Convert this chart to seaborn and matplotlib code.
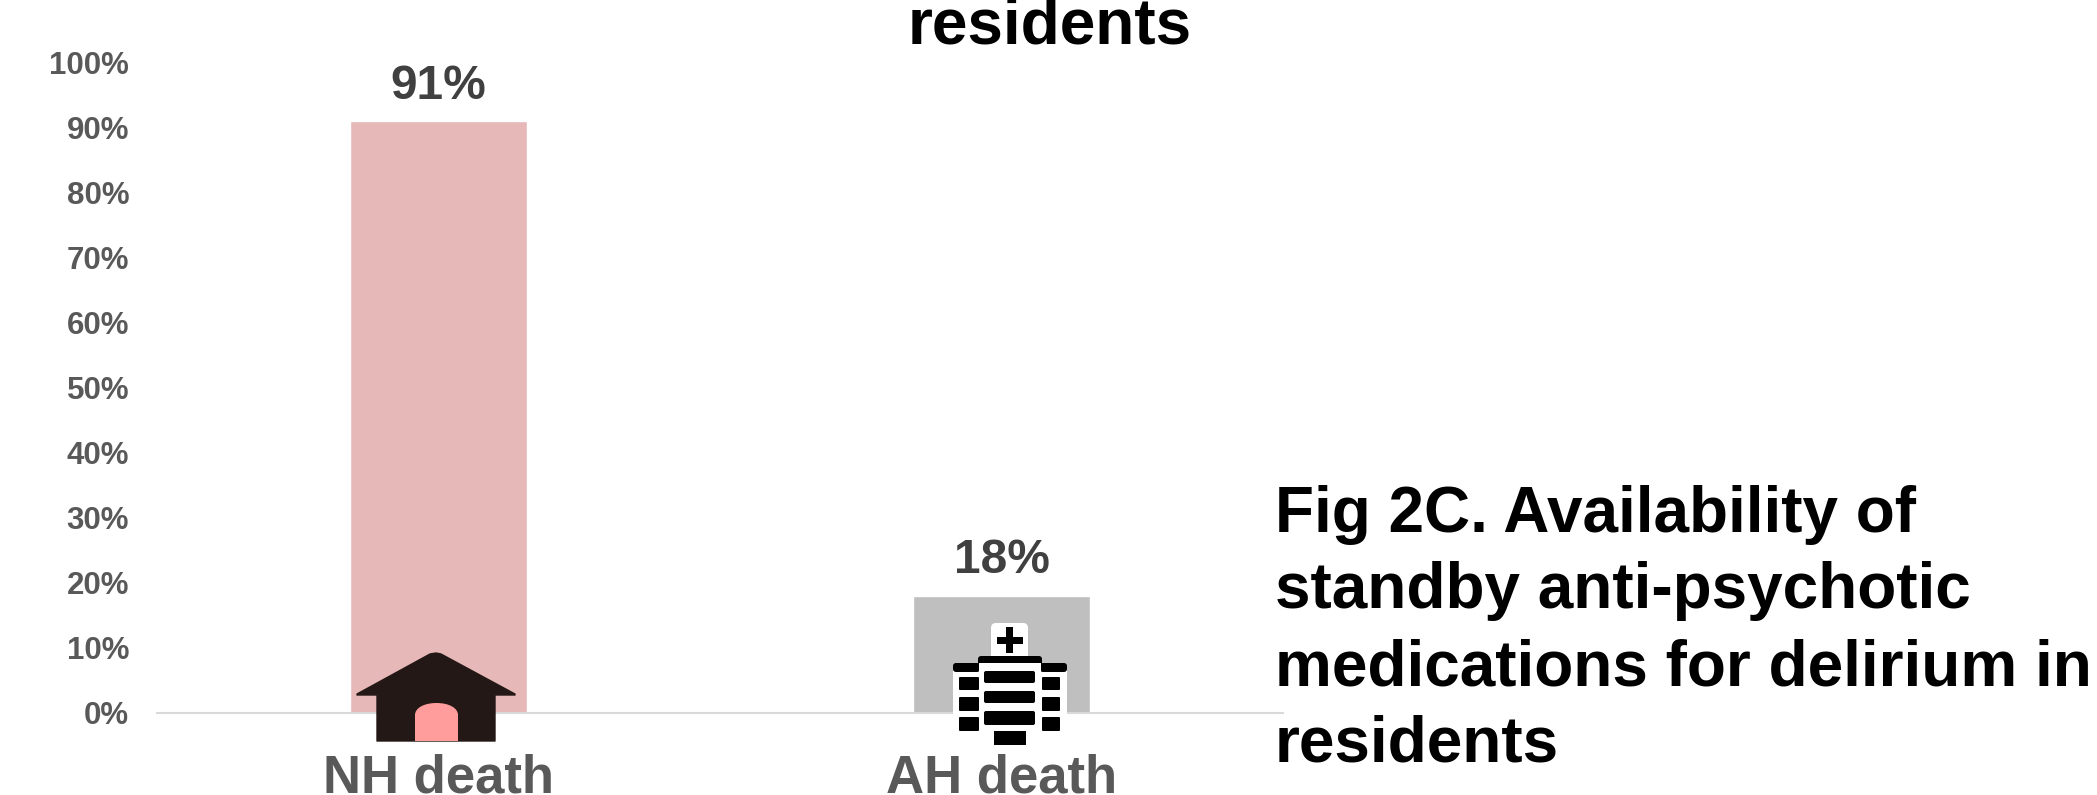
import matplotlib
matplotlib.use("Agg")
import matplotlib.pyplot as plt
import pandas as pd
import seaborn as sns
from matplotlib.patches import FancyBboxPatch, PathPatch, Polygon, Rectangle
from matplotlib.path import Path

categories = ["NH death", "AH death"]
values = [91, 18]
bar_colors = ["#E6B8B7", "#BFBFBF"]
tick_values = list(range(0, 101, 10))
tick_labels = [f"{v}%" for v in tick_values]
heading = "residents"
side_caption = [
    "Fig 2C. Availability of",
    "standby anti-psychotic",
    "medications for delirium in",
    "residents",
]

W, H = 2097, 795
sns.set_theme(style="white")
plt.rcParams["font.family"] = ["Liberation Sans", "DejaVu Sans"]

fig = plt.figure(figsize=(W / 100, H / 100), dpi=100, facecolor="white")
ax = fig.add_axes([157 / W, 1 - 713 / H, (1283 - 157) / W, (713 - 62.5) / H])

df = pd.DataFrame({"setting": categories, "pct": values})
sns.barplot(data=df, x="setting", y="pct", hue="setting", palette=bar_colors,
            width=0.316, legend=False, saturation=1, ax=ax)

ax.set_xlim(-0.5, 1.5)
ax.set_ylim(0, 100)
ax.set_xlabel("")
ax.set_ylabel("")
ax.set_yticks(tick_values)
ax.set_yticklabels(tick_labels, fontsize=22.5, fontweight="bold", color="#595959")
ax.set_xticks(range(len(categories)))
ax.set_xticklabels(categories, fontsize=38, fontweight="bold", color="#595959")
ax.tick_params(axis="y", length=0, pad=20)
ax.tick_params(axis="x", length=0, pad=29)
for side in ("top", "right", "left"):
    ax.spines[side].set_visible(False)
ax.spines["bottom"].set_color("#D9D9D9")
ax.spines["bottom"].set_linewidth(1.5)

for container in ax.containers:
    ax.bar_label(container, fmt="%g%%", padding=9, fontsize=34.5,
                 fontweight="bold", color="#404040")

fig.text(1050 / W, 1 - 43 / H, heading, ha="center", va="baseline",
         fontsize=46, fontweight="bold", color="black")
for line, baseline in zip(side_caption, [532, 608, 685, 761]):
    fig.text(1275 / W, 1 - baseline / H, line, ha="left", va="baseline",
             fontsize=46, fontweight="bold", color="black")

# Overlay in pixel units for the two building icons
icons = fig.add_axes([0, 0, 1, 1], facecolor="none")
icons.set_xlim(0, W)
icons.set_ylim(H, 0)
icons.axis("off")


def block(x0, y0, x1, y1, color, radius=2.0):
    icons.add_patch(FancyBboxPatch((x0 + radius, y0 + radius),
                                   x1 - x0 - 2 * radius, y1 - y0 - 2 * radius,
                                   boxstyle=f"round,pad={radius},rounding_size={radius}",
                                   fc=color, ec="none"))


# Nursing home icon
HOUSE = "#231815"
icons.add_patch(Polygon([(357, 694), (430, 654), (436, 653), (441, 654), (515, 694),
                         (515, 695), (495, 695), (495, 741), (377, 741), (377, 695),
                         (357, 695)], closed=True, fc=HOUSE, ec=HOUSE, lw=1, joinstyle="round"))
door_path = Path([(415, 741), (415, 715), (415, 708), (424, 703), (436.5, 703),
                  (449, 703), (458, 708), (458, 715), (458, 741), (415, 741)],
                 [Path.MOVETO, Path.LINETO, Path.CURVE4, Path.CURVE4, Path.CURVE4,
                  Path.CURVE4, Path.CURVE4, Path.CURVE4, Path.LINETO, Path.CLOSEPOLY])
icons.add_patch(PathPatch(door_path, fc="#FF9C9C", ec="none"))

# Hospital icon
block(991, 623, 1028, 662, "white", radius=5)
block(953, 665, 1067, 745, "white", radius=4)
block(978, 656, 1042, 665, "black", radius=3)
icons.add_patch(Rectangle((978, 661), 64, 10, fc="black", ec="none", clip_on=False, zorder=0.5))
block(953, 663, 980, 672, "black", radius=3)
block(1040, 663, 1067, 672, "black", radius=3)
icons.add_patch(Rectangle((979, 663), 62, 9, fc="white", ec="none"))
icons.add_patch(Rectangle((996.5, 636.5), 26, 7, fc="black", ec="none"))
icons.add_patch(Rectangle((1006, 627), 7, 26, fc="black", ec="none"))
for y0, y1 in [(671, 683), (691, 703), (711, 725)]:
    block(984, y0, 1035, y1, "black")
for y0, y1 in [(677, 690), (697, 711), (717, 731)]:
    block(959, y0, 979, y1, "black", radius=1)
    block(1042, y0, 1060, y1, "black", radius=1)
icons.add_patch(Rectangle((994, 731), 32, 14, fc="black", ec="none"))

fig.savefig("out.png", dpi=100, facecolor="white")
